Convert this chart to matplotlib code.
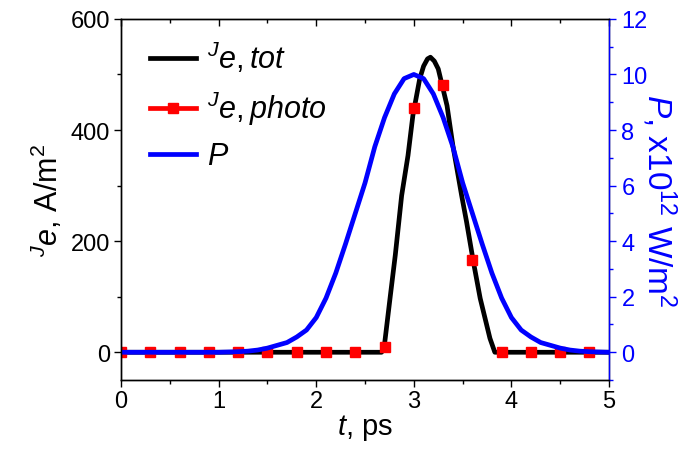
import matplotlib
matplotlib.use('Agg')
import matplotlib.pyplot as plt
from matplotlib.lines import Line2D
from matplotlib.ticker import MultipleLocator

plt.rcParams['font.family'] = ['Liberation Sans', 'DejaVu Sans']
plt.rcParams['mathtext.fontset'] = 'custom'
plt.rcParams['mathtext.rm'] = 'Liberation Sans'
plt.rcParams['mathtext.it'] = 'Liberation Sans:italic'

# total current, A/m2
t_tot = [0.0, 2.67, 2.70, 2.76, 2.81, 2.875, 2.94, 2.99, 3.06, 3.10, 3.14, 3.17,
         3.21, 3.25, 3.34, 3.40, 3.49, 3.54, 3.61, 3.68, 3.78, 3.83, 5.0]
j_tot = [0, 0, 15, 103, 175, 282, 354, 426, 492, 515, 528, 531,
         524, 510, 444, 372, 282, 235, 163, 97, 25, 0, 0]

# photo current (symbols only)
t_photo = [0.0, 0.3, 0.6, 0.9, 1.2, 1.5, 1.8, 2.1, 2.4, 2.7, 3.0, 3.3, 3.6, 3.9, 4.2, 4.5, 4.8]
j_photo = [0, 0, 0, 0, 0, 0, 0, 0, 0, 10, 440, 481, 166, 0, 0, 0, 0]

# laser power, x10^12 W/m2
t_p = [0.0, 1.0, 1.1, 1.2, 1.3, 1.4, 1.5, 1.6, 1.7, 1.8, 1.9, 2.0, 2.1, 2.2, 2.3, 2.4,
       2.5, 2.6, 2.7, 2.8, 2.9, 3.0, 3.1, 3.2, 3.3, 3.4, 3.5, 3.6, 3.7, 3.8, 3.9,
       4.0, 4.1, 4.2, 4.3, 4.4, 4.5, 4.6, 4.7, 4.8, 4.9, 5.0]
p = [0, 0, 0.01, 0.02, 0.04, 0.08, 0.15, 0.25, 0.35, 0.55, 0.8, 1.25, 1.95, 2.85, 3.9, 5.0,
     6.1, 7.4, 8.45, 9.3, 9.85, 10.0, 9.85, 9.3, 8.45, 7.4, 6.1, 5.0, 3.9, 2.85, 1.95,
     1.25, 0.8, 0.55, 0.35, 0.25, 0.15, 0.08, 0.04, 0.02, 0.01, 0]

fig = plt.figure(figsize=(7, 4.52), dpi=100)
ax = fig.add_axes([0.173, 0.157, 0.697, 0.799])
ax2 = ax.twinx()

ax.plot(t_tot, j_tot, color='black', lw=3.4)
ax.plot(t_photo, j_photo, ls='none', marker='s', ms=7, color='red', mec='red')
ax2.plot(t_p, p, color='blue', lw=3.4)

ax.set_xlim(0, 5)
ax.set_ylim(-50, 600)
ax2.set_ylim(-1, 12)

ax.xaxis.set_major_locator(MultipleLocator(1))
ax.xaxis.set_minor_locator(MultipleLocator(0.5))
ax.yaxis.set_major_locator(MultipleLocator(200))
ax.yaxis.set_minor_locator(MultipleLocator(100))
ax2.yaxis.set_major_locator(MultipleLocator(2))
ax2.yaxis.set_minor_locator(MultipleLocator(1))

ax.tick_params(axis='x', which='both', direction='out', top=True, labelsize=17, pad=2)
ax.tick_params(axis='y', which='both', direction='out', labelsize=17, pad=3)
ax.tick_params(which='major', length=5, width=1)
ax.tick_params(which='minor', length=3, width=1)
ax2.tick_params(axis='y', which='both', direction='out', colors='blue', labelsize=17, width=1, pad=4)
ax2.tick_params(which='major', length=5)
ax2.tick_params(which='minor', length=3)

# top ticks point inwards
for tk in ax.xaxis.get_major_ticks() + ax.xaxis.get_minor_ticks():
    tk.tick2line.set_marker(matplotlib.lines.TICKDOWN)

ax2.spines['right'].set_color('blue')
for sp in ax.spines.values():
    sp.set_linewidth(1)
for sp in ax2.spines.values():
    sp.set_linewidth(1)

ax.set_xlabel('$t$, ps', fontsize=21, labelpad=0)
ax.set_ylabel('${}^{J}$$e$, A/m$^2$', fontsize=22, labelpad=4)
ax2.set_ylabel('$P$, x10$^{12}$ W/m$^2$', fontsize=24, color='blue', rotation=270, labelpad=22)

handles = [Line2D([], [], color='black', lw=3.4),
           Line2D([], [], color='red', lw=3.4, marker='s', ms=7),
           Line2D([], [], color='blue', lw=3.4)]
labels = ['${}^{J}$$e,tot$', '${}^{J}$$e,photo$', '$P$']
ax2.legend(handles, labels, loc='upper left', frameon=False, fontsize=22,
           handlelength=1.5, handletextpad=0.35, labelspacing=0.45,
           borderaxespad=0, bbox_to_anchor=(0.035, 0.975))

fig.savefig('out.png', dpi=100)
